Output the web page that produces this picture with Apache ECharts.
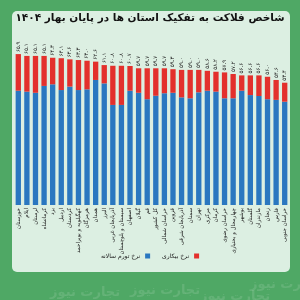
<!DOCTYPE html>
<html><head><meta charset="utf-8">
<script src="https://cdn.jsdelivr.net/npm/echarts@6/dist/echarts.min.js"></script>
<style>html,body{margin:0;padding:0;background:#4fa865}#c{width:300px;height:300px}</style>
</head><body><div id="c"></div>
<script>
const categories = ['خوزستان','ایلام','لرستان','کرمانشاه','یزد','اردبیل','کردستان','کهگیلویه و بویراحمد','هرمزگان','همدان','البرز','آذربایجان غربی','سیستان و بلوچستان','اصفهان','گیلان','قم','کل کشور','خراسان شمالی','قزوین','آذربایجان شرقی','سمنان','تهران','مرکزی','کرمان','خراسان رضوی','چهارمحال و بختیاری','بوشهر','گلستان','مازندران','زنجان','فارس','خراسان جنوبی'];
const inflation = [49.9,49.5,49.0,52.0,52.7,50.2,51.7,50.2,50.5,54.6,53.1,43.7,43.7,49.9,49.0,46.2,47.7,48.8,49.0,47.0,46.6,49.2,49.9,49.5,46.6,46.6,49.9,48.0,47.6,46.2,45.9,45.1];
const unemployment = [16.0,15.6,16.1,13.1,11.6,13.9,11.9,13.1,12.5,8.0,8.0,17.1,17.1,10.8,10.7,13.5,12.0,10.9,10.3,12.0,12.4,9.8,8.7,8.7,11.3,10.6,6.7,8.6,9.0,9.8,8.7,8.3];
const seriesNames = ['نرخ تورم سالانه','نرخ بیکاری'];

const fa = s => String(s).replace(/[0-9]/g, d => '۰۱۲۳۴۵۶۷۸۹'[d]);
const F = 'DejaVu Sans';
const chart = echarts.init(document.getElementById('c'), null, {renderer:'canvas'});
chart.setOption({
  backgroundColor: '#4fa865',
  animation: false,
  textStyle: {fontFamily: F},
  graphic: [
    {type:'rect', shape:{x:12,y:11,width:278,height:261,r:5}, style:{fill:'#dcefe2'}, z:-10},
    {type:'text', left:'center', top:13, style:{text:'شاخص فلاکت به تفکیک استان ها در پایان بهار ۱۴۰۴', font:'bold 10.5px "DejaVu Sans"', fill:'#111'}},
    {type:'text', x:250, y:278, style:{text:'تجارت نیوز', font:'bold 13px "DejaVu Sans"', fill:'rgba(255,255,255,0.12)'}},
    {type:'text', x:50, y:286, style:{text:'تجارت نیوز', font:'bold 13px "DejaVu Sans"', fill:'rgba(255,255,255,0.12)'}},
    {type:'text', x:130, y:284, style:{text:'تجارت نیوز', font:'bold 13px "DejaVu Sans"', fill:'rgba(255,255,255,0.12)'}},
    {type:'text', x:200, y:290, style:{text:'تجارت نیوز', font:'bold 13px "DejaVu Sans"', fill:'rgba(255,255,255,0.12)'}}
  ],
  legend: {
    bottom: 36, left: 'center', itemWidth: 5, itemHeight: 5, itemGap: 12, align: 'right',
    icon: 'rect',
    textStyle: {fontSize: 6, color: '#222', fontFamily: F},
    data: [seriesNames[0], seriesNames[1]]
  },
  grid: {left: 14, right: 11, top: 44.7, bottom: 95, containLabel: false},
  xAxis: {
    type: 'category', data: categories,
    axisLine: {show:false}, axisTick: {show:false},
    axisLabel: {interval: 0, rotate: 90, fontSize: 5.5, color: '#222', fontFamily: F, margin: 3}
  },
  yAxis: {type: 'value', min: 0, max: 70, show: false, splitLine:{show:false}},
  series: [
    {name: seriesNames[0], type: 'bar', stack: 'a', data: inflation, barWidth: '62%', itemStyle: {color: '#2a77c0'}},
    {name: seriesNames[1], type: 'bar', stack: 'a', data: unemployment, itemStyle: {color: '#e3302c'},
     label: {show: true, position: 'top', rotate: 90, align: 'left', verticalAlign: 'middle', distance: 2,
       fontSize: 5.5, color: '#222', fontFamily: F,
       formatter: p => fa((inflation[p.dataIndex] + unemployment[p.dataIndex]).toFixed(1))}}
  ]
});
</script></body></html>
